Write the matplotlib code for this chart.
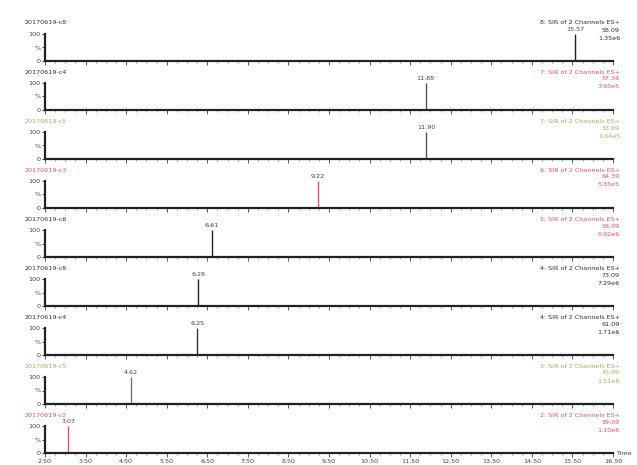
import matplotlib
matplotlib.use('Agg')
import matplotlib.pyplot as plt
from matplotlib.ticker import MultipleLocator, FixedLocator

# 每个通道一行：样品名、通道、保留时间、峰高(%)、右侧数值
samples = ['20170619-c8', '20170619-c4', '20170619-c5', '20170619-c3', '20170619-c6',
           '20170619-c8', '20170619-c4', '20170619-c5', '20170619-c2']
channels = ['8: SIR of 2 Channels ES+', '7: SIR of 2 Channels ES+', '7: SIR of 2 Channels ES+',
            '6: SIR of 2 Channels ES+', '5: SIR of 2 Channels ES+', '4: SIR of 2 Channels ES+',
            '4: SIR of 2 Channels ES+', '3: SIR of 2 Channels ES+', '2: SIR of 2 Channels ES+']
masses = ['58.09', '57.36', '53.09', '64.39', '56.09', '73.09', '61.09', '45.09', '39.09']
intensities = ['1.35e6', '3.93e5', '1.64e5', '5.35e5', '5.92e6', '7.29e6', '1.71e6', '1.51e6', '1.10e6']
rt = [15.57, 11.88, 11.90, 9.22, 6.61, 6.28, 6.25, 4.62, 3.07]
peak_height = [100, 100, 100, 100, 100, 100, 100, 100, 100]

x_ticks = [2.50, 3.50, 4.50, 5.50, 6.50, 7.50, 8.50, 9.50, 10.50, 11.50, 12.50, 13.50, 14.50, 15.50, 16.50]

RED = '#e8525e'
GREEN = '#8cbf5a'
BLK = '#333333'
left_col = [BLK, BLK, GREEN, RED, BLK, BLK, BLK, GREEN, RED]
right_col = [BLK, RED, GREEN, RED, RED, BLK, BLK, GREEN, RED]
peak_col = ['#222222', '#555555', '#555555', RED, '#222222', '#222222', '#333333', '#777777', RED]

W, H = 637, 465
fig = plt.figure(figsize=(W / 100, H / 100), dpi=100)
fig.patch.set_facecolor('white')

x0, x1 = 45, 613
fs = 4.6
for i in range(9):
    base = 61 + i * 49
    ax = fig.add_axes([x0 / W, 1 - base / H, (x1 - x0) / W, 27 / H])
    ax.set_xlim(2.50, 16.50)
    ax.set_ylim(0, 100)
    for s in ['top', 'right']:
        ax.spines[s].set_visible(False)
    ax.spines['bottom'].set_linewidth(1.6)
    ax.spines['left'].set_linewidth(1.6)
    ax.spines['bottom'].set_color('#222222')
    ax.spines['left'].set_color('#222222')

    ax.vlines(rt[i], 0, peak_height[i], color=peak_col[i], lw=1.0)
    ax.text(rt[i], peak_height[i] + 6, f'{rt[i]:.2f}', fontsize=fs, ha='center',
            va='bottom', color='#444444')

    ax.xaxis.set_major_locator(FixedLocator(x_ticks))
    ax.xaxis.set_minor_locator(MultipleLocator(0.25))
    ax.tick_params(axis='x', which='major', length=3, width=0.6, color='#444444')
    ax.tick_params(axis='x', which='minor', length=1.5, width=0.4, color='#666666')
    ax.set_yticks([0, 50, 100])
    ax.set_yticklabels(['0', '%', '100'], fontsize=fs, color='#444444')
    ax.tick_params(axis='y', length=2, width=0.5, pad=1)

    if i == 8:
        ax.set_xticklabels([f'{t:.2f}' for t in x_ticks], fontsize=fs, color='#444444')
        ax.tick_params(axis='x', which='major', pad=1)
        ax.text(1.005, 0.0, 'Time', transform=ax.transAxes, fontsize=fs,
                ha='left', va='center', color='#444444')
    else:
        ax.set_xticklabels([])

    # 左上样品名，右上通道信息
    fig.text(25 / W, 1 - (base - 38) / H, samples[i], fontsize=fs, color=left_col[i],
             ha='left', va='center')
    fig.text(620 / W, 1 - (base - 38) / H, channels[i], fontsize=fs, color=right_col[i],
             ha='right', va='center')
    fig.text(620 / W, 1 - (base - 31) / H, masses[i], fontsize=fs, color=right_col[i],
             ha='right', va='center')
    fig.text(620 / W, 1 - (base - 23) / H, intensities[i], fontsize=fs, color=right_col[i],
             ha='right', va='center')

plt.savefig('out.png', dpi=100, facecolor='white')
